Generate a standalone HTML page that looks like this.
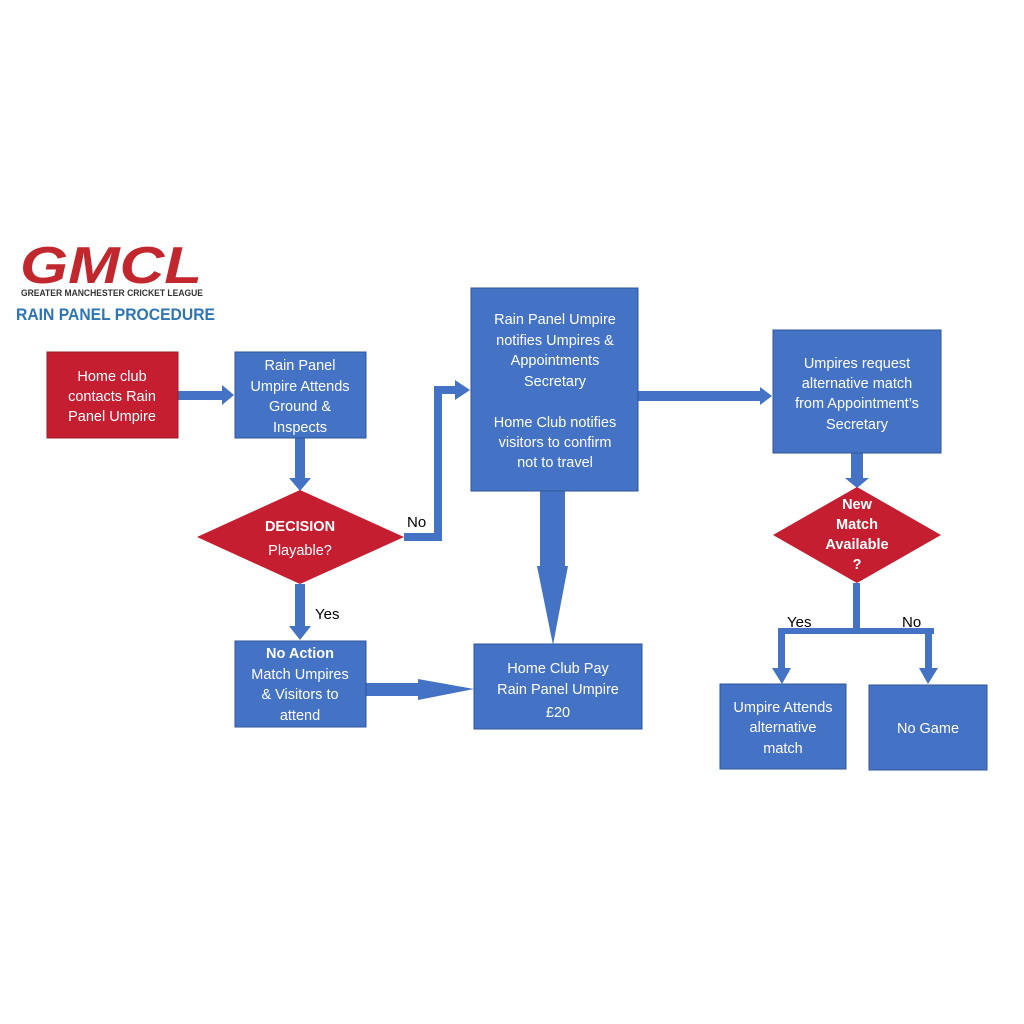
<!DOCTYPE html>
<html><head><meta charset="utf-8"><style>
html,body{margin:0;padding:0;background:#fff;}
svg{display:block}
text{font-family:"Liberation Sans",sans-serif;}
.w{fill:#fff;font-size:14.5px;text-anchor:middle}
.b{font-weight:bold}
</style></head><body>
<svg width="1024" height="1024" viewBox="0 0 1024 1024" xmlns="http://www.w3.org/2000/svg">
<rect width="1024" height="1024" fill="#fff"/>
<!-- logo -->
<text x="20" y="283" font-size="52" font-weight="bold" fill="#C1272D" textLength="182" lengthAdjust="spacingAndGlyphs" font-style="italic">GMCL</text>
<text x="21" y="296" font-size="9.5" font-weight="bold" fill="#333" textLength="182" lengthAdjust="spacingAndGlyphs">GREATER MANCHESTER CRICKET LEAGUE</text>
<text x="16" y="320" font-size="16.5" font-weight="bold" fill="#2E75B6" textLength="199" lengthAdjust="spacingAndGlyphs">RAIN PANEL PROCEDURE</text>

<g fill="#4472C4">
<rect x="178" y="391" width="46" height="9"/>
<polygon points="222,385 234,395 222,405"/>
<rect x="295" y="438" width="10" height="42"/>
<polygon points="289,478 311,478 300,491"/>
<polygon points="404,533 434,533 434,386 455,386 455,380 470,390 455,400 455,394 442,394 442,541 404,541"/>
<rect x="295" y="584" width="10" height="44"/>
<polygon points="289,626 311,626 300,640"/>
<rect x="366" y="683" width="54" height="13"/>
<polygon points="418,679 474,689 418,700"/>
<rect x="540" y="491" width="25" height="77"/>
<polygon points="537,566 568,566 553,645"/>
<rect x="638" y="391" width="124" height="10"/>
<polygon points="760,387 772,396 760,405"/>
<rect x="851" y="453" width="12" height="27"/>
<polygon points="845,478 869,478 857,488"/>
<rect x="853" y="583" width="7" height="49"/>
<rect x="778" y="628" width="156" height="6"/>
<rect x="778" y="628" width="7" height="42"/>
<polygon points="772,668 791,668 782,684"/>
<rect x="925" y="628" width="7" height="42"/>
<polygon points="919,668 938,668 928,684"/>
</g>

<rect x="47" y="352" width="131" height="86" fill="#C41E30" stroke="#9b1b28"/>
<text class="w" x="112" y="381">Home club</text>
<text class="w" x="112" y="401">contacts Rain</text>
<text class="w" x="112" y="421">Panel Umpire</text>

<g fill="#4472C4" stroke="#2F5597">
<rect x="235" y="352" width="131" height="86"/>
<rect x="471" y="288" width="167" height="203"/>
<rect x="773" y="330" width="168" height="123"/>
<rect x="235" y="641" width="131" height="86"/>
<rect x="474" y="644" width="168" height="85"/>
<rect x="720" y="684" width="126" height="85"/>
<rect x="869" y="685" width="118" height="85"/>
</g>
<text class="w" x="300" y="370">Rain Panel</text>
<text class="w" x="300" y="391">Umpire Attends</text>
<text class="w" x="300" y="411">Ground &amp;</text>
<text class="w" x="300" y="432">Inspects</text>

<text class="w" x="555" y="324">Rain Panel Umpire</text>
<text class="w" x="555" y="345">notifies Umpires &amp;</text>
<text class="w" x="555" y="365">Appointments</text>
<text class="w" x="555" y="386">Secretary</text>
<text class="w" x="555" y="427">Home Club notifies</text>
<text class="w" x="555" y="447">visitors to confirm</text>
<text class="w" x="555" y="467">not to travel</text>

<text class="w" x="857" y="368">Umpires request</text>
<text class="w" x="857" y="388">alternative match</text>
<text class="w" x="857" y="408">from Appointment’s</text>
<text class="w" x="857" y="429">Secretary</text>

<text class="w b" x="300" y="658">No Action</text>
<text class="w" x="300" y="679">Match Umpires</text>
<text class="w" x="300" y="699">&amp; Visitors to</text>
<text class="w" x="300" y="720">attend</text>

<text class="w" x="558" y="673">Home Club Pay</text>
<text class="w" x="558" y="694">Rain Panel Umpire</text>
<text class="w" x="558" y="717">£20</text>

<text class="w" x="783" y="712">Umpire Attends</text>
<text class="w" x="783" y="732">alternative</text>
<text class="w" x="783" y="753">match</text>
<text class="w" x="928" y="733">No Game</text>

<polygon points="197,537 300,490 404,537 300,584" fill="#C41E30"/>
<text class="w b" x="300" y="531" font-size="15">DECISION</text>
<text class="w" x="300" y="555" font-size="15">Playable?</text>
<polygon points="773,535 857,487 941,535 857,583" fill="#C41E30"/>
<text class="w b" x="857" y="509">New</text>
<text class="w b" x="857" y="529">Match</text>
<text class="w b" x="857" y="549">Available</text>
<text class="w b" x="857" y="569">?</text>

<text x="407" y="527" font-size="15" fill="#000">No</text>
<text x="315" y="619" font-size="15" fill="#000">Yes</text>
<text x="787" y="627" font-size="15" fill="#000">Yes</text>
<text x="902" y="627" font-size="15" fill="#000">No</text>
</svg>
</body></html>
